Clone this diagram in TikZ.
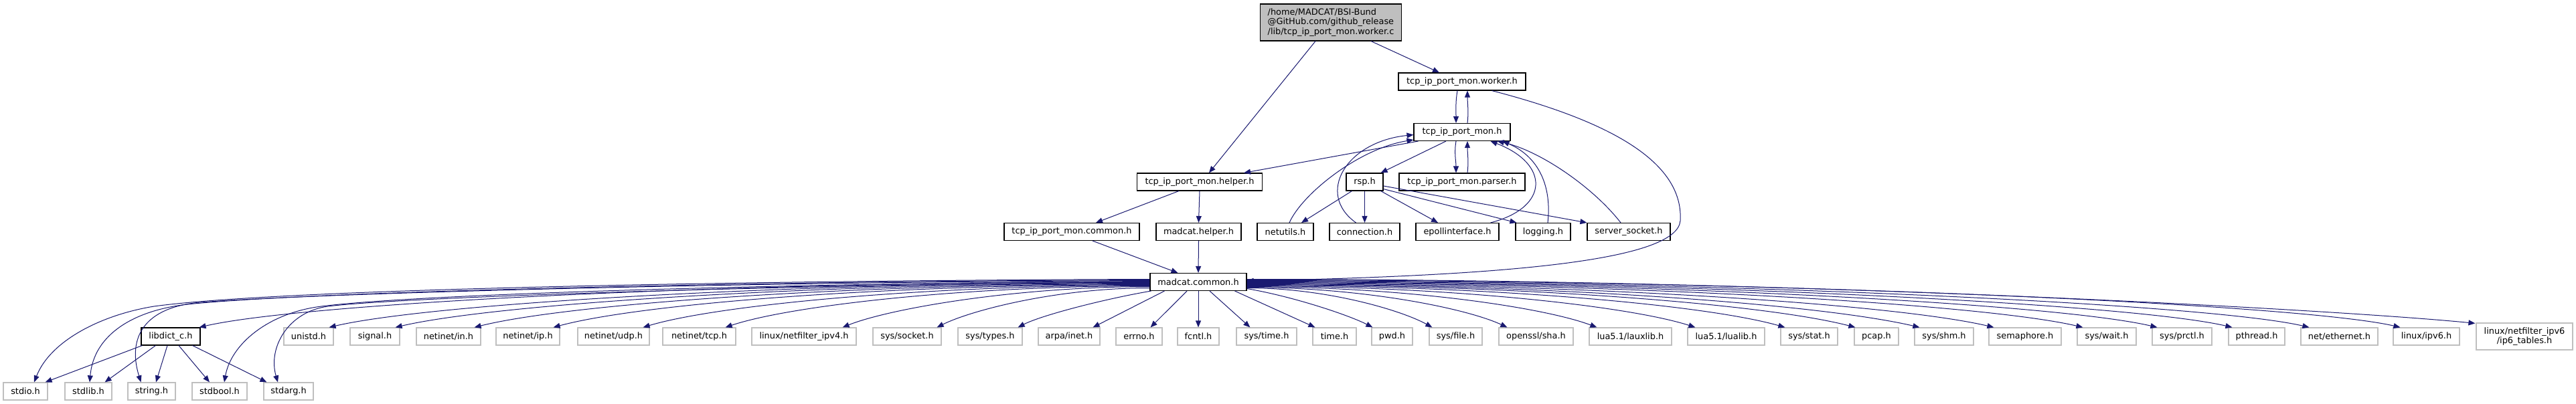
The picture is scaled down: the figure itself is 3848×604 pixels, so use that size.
\documentclass[tikz,border=0pt]{standalone}
\usepackage{fontspec}
\setmainfont{DejaVu Sans}
\usetikzlibrary{arrows.meta,calc}
\definecolor{edgeblue}{HTML}{191970}
\definecolor{grayline}{HTML}{BFBFBF}
\definecolor{rootfill}{HTML}{BFBFBF}
\begin{document}
\begin{tikzpicture}[x=1bp,y=-1bp,
  font=\fontsize{12.9bp}{14.5bp}\selectfont,
  bw/.style={minimum width=#1bp},
  box/.style={draw=black,line width=1.1bp,minimum height=26bp,inner sep=0pt,fill=white},
  ext/.style={draw=grayline,line width=1.2bp,minimum height=26bp,inner sep=0pt,fill=white},
  edge/.style={draw=edgeblue,line width=1bp,-{Triangle[length=10bp,width=8bp]}}]
\useasboundingbox[fill=white] (0,0) rectangle (3848,604);
% ---------- nodes ----------
\node[box,fill=rootfill,bw=211,minimum height=55bp,align=left] (root) at (1988,33.5)
  {/home/MADCAT/BSI-Bund\\@GitHub.com/github\_release\\/lib/tcp\_ip\_port\_mon.worker.c};
\node[box,bw=190] (worker) at (2184,122) {tcp\_ip\_port\_mon.worker.h};
\node[box,bw=144] (tcpm) at (2184,197.5) {tcp\_ip\_port\_mon.h};
\node[box,bw=187] (helper) at (1792,272) {tcp\_ip\_port\_mon.helper.h};
\node[box,bw=55] (rsp) at (2038.5,272) {rsp.h};
\node[box,bw=188] (parser) at (2184,272) {tcp\_ip\_port\_mon.parser.h};
\node[box,bw=202] (common) at (1601,346.5) {tcp\_ip\_port\_mon.common.h};
\node[box,bw=127] (mhelper) at (1790.5,346.5) {madcat.helper.h};
\node[box,bw=84] (netutils) at (1920,346.5) {netutils.h};
\node[box,bw=105] (conn) at (2038.5,346.5) {connection.h};
\node[box,bw=124] (epoll) at (2177,346.5) {epollinterface.h};
\node[box,bw=82] (logging) at (2305,346.5) {logging.h};
\node[box,bw=124] (server) at (2433,346.5) {server\_socket.h};
\node[box,bw=144] (mc) at (1790,421.5) {madcat.common.h};
% row 6
\node[box,bw=88] (libdict) at (255,503) {libdict\_c.h};
\node[ext,bw=74] (unistd) at (461,503) {unistd.h};
\node[ext,bw=74] (signal) at (560,503) {signal.h};
\node[ext,bw=96] (nin) at (670,503) {netinet/in.h};
\node[ext,bw=95] (nip) at (788.5,503) {netinet/ip.h};
\node[ext,bw=107] (nudp) at (916.5,503) {netinet/udp.h};
\node[ext,bw=109] (ntcp) at (1044.5,503) {netinet/tcp.h};
\node[ext,bw=156] (nf4) at (1201,503) {linux/netfilter\_ipv4.h};
\node[ext,bw=102] (socket) at (1355,503) {sys/socket.h};
\node[ext,bw=96] (types) at (1479,503) {sys/types.h};
\node[ext,bw=92] (arpa) at (1597,503) {arpa/inet.h};
\node[ext,bw=69] (errno) at (1701.5,503) {errno.h};
\node[ext,bw=62] (fcntl) at (1790,503) {fcntl.h};
\node[ext,bw=90] (systime) at (1892,503) {sys/time.h};
\node[ext,bw=65] (time) at (1993.5,503) {time.h};
\node[ext,bw=61] (pwd) at (2079.5,503) {pwd.h};
\node[ext,bw=79] (file) at (2174.5,503) {sys/file.h};
\node[ext,bw=111] (sha) at (2294.5,503) {openssl/sha.h};
\node[ext,bw=123] (lauxlib) at (2435.5,503) {lua5.1/lauxlib.h};
\node[ext,bw=115] (lualib) at (2578.5,503) {lua5.1/lualib.h};
\node[ext,bw=85] (stat) at (2702.5,503) {sys/stat.h};
\node[ext,bw=66] (pcap) at (2803,503) {pcap.h};
\node[ext,bw=88] (shm) at (2904,503) {sys/shm.h};
\node[ext,bw=108] (sema) at (3025,503) {semaphore.h};
\node[ext,bw=88] (wait) at (3147,503) {sys/wait.h};
\node[ext,bw=89] (prctl) at (3259.5,503) {sys/prctl.h};
\node[ext,bw=84] (pthread) at (3371,503) {pthread.h};
\node[ext,bw=115] (eth) at (3494.5,503) {net/ethernet.h};
\node[ext,bw=99] (ipv6) at (3624.5,503) {linux/ipv6.h};
\node[ext,bw=144,minimum height=40bp,align=center] (ip6t) at (3771,503) {linux/netfilter\_ipv6\\/ip6\_tables.h};
% row 7
\node[ext,bw=66] (stdio) at (38,585) {stdio.h};
\node[ext,bw=70] (stdlib) at (132,585) {stdlib.h};
\node[ext,bw=71] (string) at (226.5,585) {string.h};
\node[ext,bw=82] (stdbool) at (328,585) {stdbool.h};
\node[ext,bw=74] (stdarg) at (431,585) {stdarg.h};
% ---------- edges: upper part ----------
\draw[edge] ($(root.south)+(-23,0)$) -- ($(helper.north)+(14,0)$);
\draw[edge] ($(root.south)+(60,0)$) -- ($(worker.north)+(-34,0)$);
\draw[edge] ($(worker.south)+(-7,0)$) .. controls +(-3,18) and +(0,-18) .. ($(tcpm.north)+(-9,0)$);
\draw[edge] ($(tcpm.north)+(8,0)$) .. controls +(2,-18) and +(0,18) .. ($(worker.south)+(8,0)$);
\draw[edge] ($(worker.south east)+(-51,0)$) .. controls (2400,180) and (2515,240) .. (2510,330)
  .. controls (2505,390) and (2250,412) .. ($(mc.east)+(0,-1.5)$);
\draw[edge] ($(tcpm.south west)+(7,0)$) -- ($(helper.north east)+(-28,0)$);
\draw[edge] ($(netutils.north)+(6,0)$) .. controls (1945,290) and (2030,222) .. ($(tcpm.south west)+(0,-2)$);
\draw[edge] ($(conn.north)+(-13,0)$) .. controls (1965,290) and (2010,212) .. ($(tcpm.west)+(0,4)$);
\draw[edge] ($(epoll.north east)+(-13,0)$) .. controls (2315,310) and (2315,245) .. ($(tcpm.south east)+(-30,0)$);
\draw[edge] ($(logging.north)+(7,0)$) .. controls (2318,280) and (2300,235) .. ($(tcpm.south east)+(-12,0)$);
\draw[edge] ($(server.north)+(-12,0)$) .. controls (2380,280) and (2300,225) .. ($(tcpm.south east)+(-20,0)$);
\draw[edge] ($(tcpm.south)+(-24,0)$) -- ($(rsp.north east)+(-4,0)$);
\draw[edge] ($(tcpm.south)+(-9,0)$) .. controls +(-3,18) and +(0,-18) .. ($(parser.north)+(-9,0)$);
\draw[edge] ($(parser.north)+(8,0)$) .. controls +(2,-18) and +(0,18) .. ($(tcpm.south)+(8,0)$);
\draw[edge] ($(helper.south)+(-31,0)$) -- ($(common.north)+(36,0)$);
\draw[edge] (helper.south) -- (mhelper.north);
\draw[edge] ($(rsp.south)+(-19,0)$) -- ($(netutils.north)+(24,0)$);
\draw[edge] (rsp.south) -- (conn.north);
\draw[edge] ($(rsp.south east)+(-4,0)$) -- ($(epoll.north)+(-29,0)$);
\draw[edge] ($(rsp.south east)+(0,-3)$) -- ($(logging.north west)+(2,0)$);
\draw[edge] ($(rsp.east)+(0,6)$) -- ($(server.north west)+(0,0)$);
\draw[edge] ($(common.south)+(31,0)$) -- ($(mc.north west)+(42,0)$);
\draw[edge] (mhelper.south) -- (mc.north);
% ---------- madcat.common.h -> left ----------
\draw[edge] (mc.west) .. controls +(-650,0) and +(150,-35) .. ($(libdict.north east)+(-2,0)$);
\draw[edge] ($(mc.west)+(0,1)$) .. controls +(-550,0) and +(150,-35) .. ($(unistd.north east)+(-7,0)$);
\draw[edge] ($(mc.west)+(0,2)$) .. controls +(-500,0) and +(150,-35) .. ($(signal.north east)+(-7,0)$);
\draw[edge] ($(mc.west)+(0,3)$) .. controls +(-450,0) and +(140,-35) .. ($(nin.north east)+(-10,0)$);
\draw[edge] ($(mc.west)+(0,4)$) .. controls +(-400,0) and +(130,-35) .. ($(nip.north east)+(-10,0)$);
\draw[edge] ($(mc.west)+(0,5)$) .. controls +(-340,0) and +(110,-33) .. ($(nudp.north east)+(-10,0)$);
\draw[edge] ($(mc.west)+(0,6)$) .. controls +(-280,0) and +(95,-32) .. ($(ntcp.north east)+(-16,0)$);
\draw[edge] ($(mc.west)+(0,7)$) .. controls +(-200,0) and +(70,-28) .. ($(nf4.north east)+(-21,0)$);
\draw[edge] ($(mc.west)+(0,9)$) .. controls +(-140,0) and +(50,-25) .. ($(socket.north east)+(-7,0)$);
\draw[edge] ($(mc.south west)+(2,0)$) .. controls +(-70,12) and +(35,-18) .. ($(types.north east)+(-7,0)$);
\draw[edge] ($(mc.south west)+(22,0)$) -- ($(arpa.north east)+(-11,0)$);
\draw[edge] ($(mc.south)+(-17,0)$) -- ($(errno.north east)+(-18,0)$);
\draw[edge] (mc.south) -- (fcntl.north);
% ---------- madcat.common.h -> right ----------
\draw[edge] ($(mc.south)+(17,0)$) -- ($(systime.north west)+(21,0)$);
\draw[edge] ($(mc.south east)+(-18,0)$) -- ($(time.north west)+(4,0)$);
\draw[edge] ($(mc.east)+(0,10)$) .. controls +(70,12) and +(-35,-18) .. ($(pwd.north west)+(2,0)$);
\draw[edge] ($(mc.east)+(0,9)$) .. controls +(120,0) and +(-45,-25) .. ($(file.north west)+(5,0)$);
\draw[edge] ($(mc.east)+(0,8)$) .. controls +(175,0) and +(-60,-28) .. ($(sha.north west)+(13,0)$);
\draw[edge] ($(mc.east)+(0,7)$) .. controls +(235,0) and +(-80,-30) .. ($(lauxlib.north west)+(12,0)$);
\draw[edge] ($(mc.east)+(0,6)$) .. controls +(300,0) and +(-100,-32) .. ($(lualib.north west)+(12,0)$);
\draw[edge] ($(mc.east)+(0,5)$) .. controls +(360,0) and +(-120,-34) .. ($(stat.north west)+(7,0)$);
\draw[edge] ($(mc.east)+(0,4)$) .. controls +(410,0) and +(-135,-35) .. ($(pcap.north west)+(2,0)$);
\draw[edge] ($(mc.east)+(0,3)$) .. controls +(450,0) and +(-150,-35) .. ($(shm.north west)+(8,0)$);
\draw[edge] ($(mc.east)+(0,2)$) .. controls +(500,0) and +(-150,-35) .. ($(sema.north west)+(8,0)$);
\draw[edge] ($(mc.east)+(0,1)$) .. controls +(560,0) and +(-150,-35) .. ($(wait.north west)+(9,0)$);
\draw[edge] ($(mc.east)+(0,0)$) .. controls +(610,0) and +(-150,-35) .. ($(prctl.north west)+(8,0)$);
\draw[edge] ($(mc.east)+(0,-1)$) .. controls +(660,0) and +(-150,-35) .. ($(pthread.north west)+(6,0)$);
\draw[edge] ($(mc.east)+(0,-2)$) .. controls +(710,0) and +(-150,-35) .. ($(eth.north west)+(13,0)$);
\draw[edge] ($(mc.east)+(0,-3)$) .. controls +(770,0) and +(-150,-35) .. ($(ipv6.north west)+(11,0)$);
\draw[edge] ($(mc.east)+(0,-4)$) .. controls +(820,0) and +(-200,-20) .. ($(ip6t.north west)+(-1,1)$);
% ---------- madcat.common.h -> bottom row ----------
\draw[edge] ($(mc.west)+(0,-4)$) .. controls +(-600,2) and (420,432) .. (230,458)
  .. controls (150,471) and (75,510) .. ($(stdio.north)+(13,0)$);
\draw[edge] ($(mc.west)+(0,-3)$) .. controls +(-600,2) and (460,436) .. (280,455)
  .. controls (200,464) and (140,500) .. ($(stdlib.north)+(2,0)$);
\draw[edge] ($(mc.west)+(0,-2)$) .. controls +(-600,2) and (480,438) .. (300,452)
  .. controls (215,459) and (190,505) .. ($(string.north)+(-16,0)$);
\draw[edge] ($(mc.west)+(0,-1)$) .. controls +(-550,3) and (620,440) .. (480,458)
  .. controls (400,468) and (345,515) .. ($(stdbool.north)+(7,0)$);
\draw[edge] ($(mc.west)+(0,0.5)$) .. controls +(-520,3) and (600,444) .. (490,458)
  .. controls (430,466) and (400,520) .. ($(stdarg.north)+(-16,0)$);
% ---------- libdict_c.h -> bottom row ----------
\draw[edge] ($(libdict.south west)+(2,0)$) -- ($(stdio.north east)+(-4,0)$);
\draw[edge] ($(libdict.south west)+(22,0)$) -- ($(stdlib.north east)+(-11,0)$);
\draw[edge] ($(libdict.south)+(-5,0)$) -- ($(string.north)+(6.5,0)$);
\draw[edge] ($(libdict.south)+(12,0)$) -- ($(stdbool.north)+(-15,0)$);
\draw[edge] ($(libdict.south east)+(-12,0)$) -- ($(stdarg.north west)+(5,0)$);
\end{tikzpicture}
\end{document}
